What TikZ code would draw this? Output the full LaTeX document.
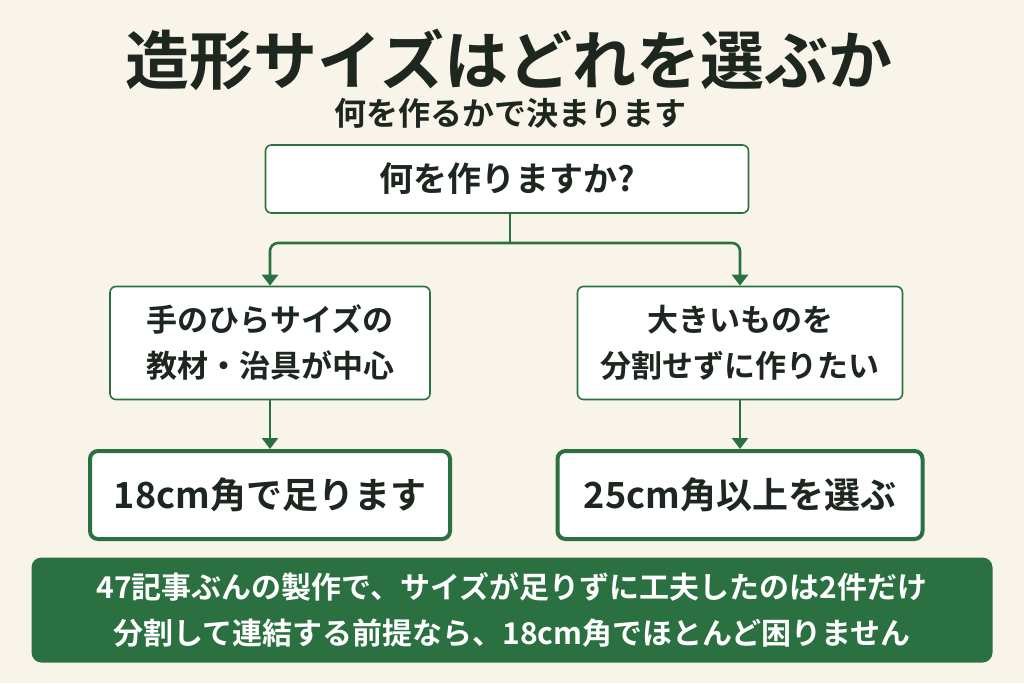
\documentclass[tikz,border=0pt]{standalone}
\usepackage{fontspec}
\setmainfont{Noto Sans CJK JP}[BoldFont={* Bold}]
\usetikzlibrary{positioning,arrows.meta}
\definecolor{bg}{HTML}{F8F4EA}
\definecolor{gr}{HTML}{2A7040}
\definecolor{dk}{HTML}{1E2620}
\begin{document}
\begin{tikzpicture}[x=1pt,y=-1pt,
		q/.style={draw=gr,line width=1.6pt,fill=white,rounded corners=6pt,align=center,text=dk,font=\bfseries\fontsize{31}{46}\selectfont},
		a/.style={draw=gr,line width=4pt,fill=white,rounded corners=8pt,align=center,text=dk,font=\bfseries\fontsize{36}{40}\selectfont},
		arr/.style={draw=gr,line width=2.6pt,-{Triangle[length=11pt,width=16pt]}}]
	\useasboundingbox[fill=bg] (0,0) rectangle (1024,683);
	\node[text=dk,font=\bfseries\fontsize{64}{70}\selectfont]	(t)	at (509,60)	{造形サイズはどれを選ぶか};
	\node[text=dk,font=\bfseries\fontsize{32}{36}\selectfont]	(s)	at (510,113)	{何を作るかで決まります};
	\node[q,minimum width=483,minimum height=68,font=\bfseries\fontsize{34}{40}\selectfont]	(1)	at (507,179)	{何を作りますか?};
	\node[q,minimum width=320,minimum height=113]	(2)	at (270,343)	{手のひらサイズの\\教材・治具が中心};
	\node[q,minimum width=325,minimum height=113]	(3)	at (740,343)	{大きいものを\\分割せずに作りたい};
	\node[a,minimum width=360,minimum height=88]	(4)	at (270,495)	{18cm角で足ります};
	\node[a,minimum width=365,minimum height=88]	(5)	at (740,495)	{25cm角以上を選ぶ};
	\node[fill=gr,rounded corners=10pt,minimum width=961,minimum height=105,align=center,text=white,font=\bfseries\fontsize{30}{46}\selectfont]	(b)	at (512,610)	{47記事ぶんの製作で、サイズが足りずに工夫したのは2件だけ\\分割して連結する前提なら、18cm角でほとんど困りません};

	\coordinate (m) at (510,243);
	\draw[gr,line width=2.6pt,rounded corners=8pt] (1.south -| m) -- (m);
	\draw[arr,rounded corners=8pt] (m) -| (2.north);
	\draw[arr,rounded corners=8pt] (m) -| (3.north);
	\draw[arr] (2.south) -- (4.north);
	\draw[arr] (3.south) -- (5.north);
\end{tikzpicture}
\end{document}
